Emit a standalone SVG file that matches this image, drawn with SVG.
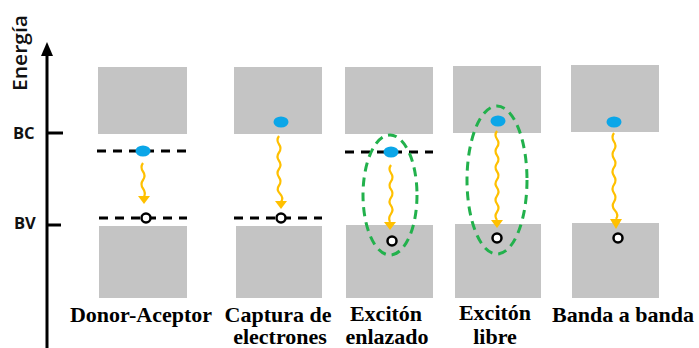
<svg xmlns="http://www.w3.org/2000/svg" width="699" height="348" viewBox="0 0 699 348">
<style>
.band{fill:#C4C4C4}
.lvl{stroke:#000;stroke-width:3;stroke-dasharray:9 7;fill:none}
.e{fill:#0BA6E8}
.h{fill:#fff;stroke:#000;stroke-width:2.5}
.wave{fill:none;stroke:#FFC000;stroke-width:2.2}
.head{fill:#FFC000}
.exc{fill:none;stroke:#22B14C;stroke-width:3;stroke-dasharray:9 6}
.lab{font-family:"Liberation Serif","Times New Roman",serif;font-weight:bold;font-size:22px;fill:#000;text-anchor:middle}
.ax{font-family:"Open Sans","Liberation Sans",sans-serif;font-weight:bold;font-size:16.5px;fill:#111}
</style>
<rect width="699" height="348" fill="#fff"/>
<g id="axis">
<line x1="47" y1="348" x2="47" y2="52" stroke="#000" stroke-width="3"/>
<polygon points="41,56 53,56 47,42" fill="#000"/>
<line x1="47" y1="133" x2="63" y2="133" stroke="#000" stroke-width="3"/>
<line x1="47" y1="225" x2="61" y2="225" stroke="#000" stroke-width="3"/>
<text class="ax" x="13" y="139">BC</text>
<text class="ax" x="14" y="229">BV</text>
<text transform="translate(27,91) rotate(-90)" font-family="'Open Sans','Liberation Sans',sans-serif" font-weight="600" font-size="19" fill="#111" textLength="76" lengthAdjust="spacingAndGlyphs">Energía</text>
</g>
<g id="col1">
<rect class="band" x="98" y="67" width="89" height="67"/>
<rect class="band" x="99" y="226" width="88" height="72"/>
<line class="lvl" x1="97" y1="151" x2="187" y2="151"/>
<line class="lvl" x1="99" y1="218" x2="187" y2="218"/>
<ellipse class="e" cx="143" cy="151" rx="7.5" ry="5.5"/>
<circle class="h" cx="146" cy="218" r="4.5"/>
<text class="lab" x="141" y="322">Donor-Aceptor</text>
</g>
<g id="col2">
<rect class="band" x="234" y="67" width="88" height="67"/>
<rect class="band" x="236" y="226" width="86" height="72"/>
<line class="lvl" x1="234" y1="218" x2="322" y2="218"/>
<ellipse class="e" cx="281" cy="122" rx="7.5" ry="5.5"/>
<circle class="h" cx="281" cy="218" r="4.5"/>
<text class="lab"><tspan x="278" y="322">Captura de</tspan><tspan x="280" y="344">electrones</tspan></text>
</g>
<g id="col3">
<rect class="band" x="345" y="67" width="88" height="67"/>
<rect class="band" x="346" y="225" width="87" height="73"/>
<line class="lvl" x1="345" y1="152" x2="433" y2="152"/>
<ellipse class="e" cx="391" cy="152" rx="7.5" ry="5.5"/>
<circle class="h" cx="392" cy="241" r="4.5"/>
<ellipse class="exc" cx="390" cy="195" rx="27" ry="60"/>
<text class="lab"><tspan x="386" y="321">Excitón</tspan><tspan x="387" y="344">enlazado</tspan></text>
</g>
<g id="col4">
<rect class="band" x="453" y="66" width="88" height="67"/>
<rect class="band" x="455" y="224" width="86" height="74"/>
<ellipse class="e" cx="498" cy="121" rx="7.5" ry="5.5"/>
<circle class="h" cx="497" cy="238" r="4.5"/>
<ellipse class="exc" cx="497" cy="180" rx="30" ry="74"/>
<text class="lab"><tspan x="495" y="320">Excitón</tspan><tspan x="495" y="344">libre</tspan></text>
</g>
<g id="col5">
<rect class="band" x="571" y="65" width="88" height="67"/>
<rect class="band" x="572" y="223" width="87" height="75"/>
<ellipse class="e" cx="614" cy="122" rx="7.5" ry="5.5"/>
<circle class="h" cx="618" cy="238" r="4.5"/>
<text class="lab" x="623" y="322">Banda a banda</text>
</g>
<g id="connectors">
<path class="wave" d="M143,163 q-3,4.25 0,8.5 t0,8.5 t0,8.5 t1,8.5"/>
<polygon class="head" points="138,196 150,196 144,204"/>
<path class="wave" d="M279,136 q-3,4.1 0,8.25 t0,8.25 t0,8.25 t0,8.25 t0,8.25 t0,8.25 t1,8.25 t1,8.25"/>
<polygon class="head" points="275,201 287,201 281,209"/>
<path class="wave" d="M391,165 q-3,4.07 0,8.14 t0,8.14 t0,8.14 t0,8.14 t0,8.14 t0,8.14 t-1,8.14"/>
<polygon class="head" points="384,222 396,222 390,230"/>
<path class="wave" d="M497,131 q-3,4.05 0,8.1 t0,8.1 t0,8.1 t0,8.1 t0,8.1 t0,8.1 t0,8.1 t0,8.1 t0,8.1 t0,8.1 t0,8.1"/>
<polygon class="head" points="491,220 503,220 497,228"/>
<path class="wave" d="M614,133 q-3,4.3 0,8.6 t0,8.6 t0,8.6 t0,8.6 t0,8.6 t0,8.6 t0,8.6 t0,8.6 t1,8.6 t1,8.6"/>
<polygon class="head" points="610,219 622,219 616,229"/>
</g>
</svg>
